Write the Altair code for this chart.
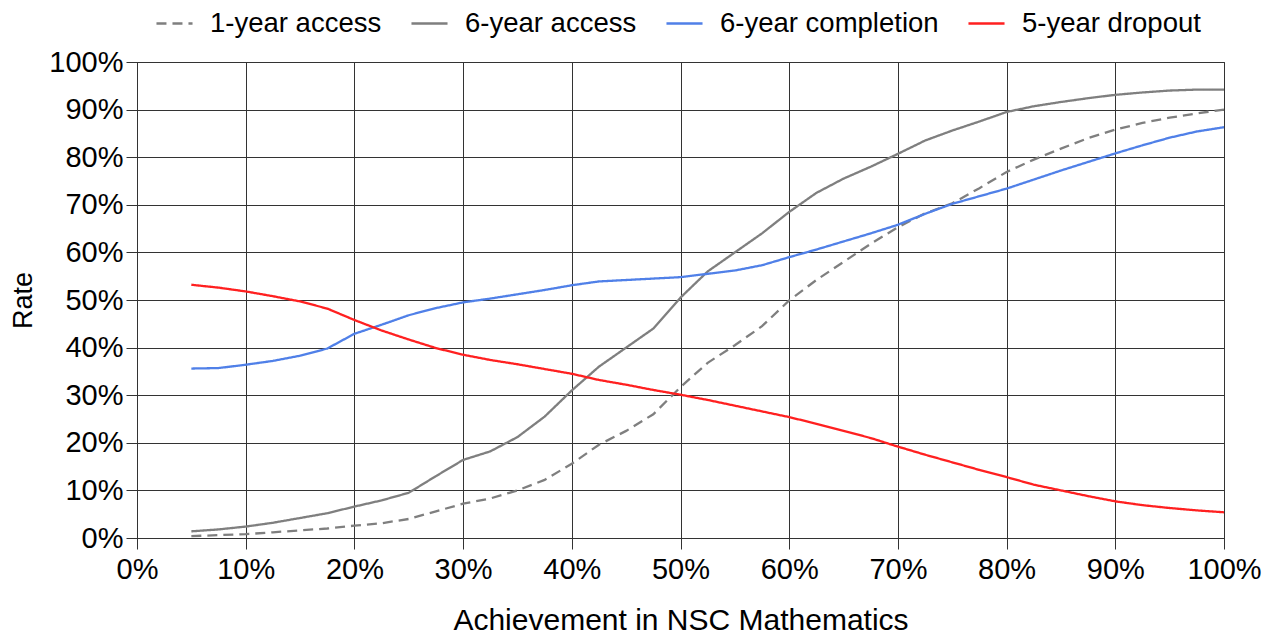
import altair as alt
import pandas as pd

x_vals = [5, 7.5, 10, 12.5, 15, 17.5, 20, 22.5, 25, 27.5, 30, 32.5, 35, 37.5, 40,
          42.5, 45, 47.5, 50, 52.5, 55, 57.5, 60, 62.5, 65, 67.5, 70, 72.5, 75,
          77.5, 80, 82.5, 85, 87.5, 90, 92.5, 95, 97.5, 100]

access_1yr = [0.4, 0.6, 0.8, 1.2, 1.6, 2.0, 2.6, 3.1, 4.0, 5.6, 7.2, 8.3, 10.0, 12.2, 15.6,
              19.6, 22.5, 26.0, 31.7, 36.8, 40.5, 44.5, 49.9, 54.2, 58.0, 61.8, 65.3, 68.2, 70.3,
              73.5, 76.9, 79.5, 81.8, 84.0, 85.8, 87.2, 88.3, 89.2, 90.0]

access_6yr = [1.4, 1.8, 2.4, 3.2, 4.2, 5.2, 6.6, 7.9, 9.5, 13.0, 16.4, 18.2, 21.2, 25.5, 31.0,
              36.0, 40.0, 44.0, 50.5, 56.0, 60.0, 64.0, 68.5, 72.5, 75.5, 78.0, 80.7, 83.5, 85.6,
              87.5, 89.5, 90.7, 91.6, 92.4, 93.1, 93.6, 94.0, 94.2, 94.2]

completion_6yr = [35.6, 35.7, 36.4, 37.2, 38.3, 39.8, 42.9, 44.8, 46.8, 48.3, 49.5, 50.3, 51.2, 52.1, 53.1,
                  53.9, 54.2, 54.5, 54.8, 55.5, 56.2, 57.3, 59.0, 60.6, 62.3, 64.0, 65.8, 68.1, 70.2,
                  71.8, 73.4, 75.3, 77.2, 79.0, 80.8, 82.5, 84.1, 85.4, 86.3]

dropout_5yr = [53.2, 52.6, 51.8, 50.8, 49.7, 48.2, 45.8, 43.6, 41.7, 39.9, 38.5, 37.4, 36.5, 35.5, 34.5,
               33.2, 32.2, 31.1, 30.1, 29.0, 27.8, 26.6, 25.4, 24.0, 22.5, 21.0, 19.2, 17.5, 15.9,
               14.3, 12.8, 11.2, 10.0, 8.8, 7.7, 6.9, 6.3, 5.8, 5.4]

series_names = ["1-year access", "6-year access", "6-year completion", "5-year dropout"]
series_colors = ["#7f7f7f", "#7f7f7f", "#5080e8", "#ff2020"]
series_dashes = [[10, 6], [1, 0], [1, 0], [1, 0]]

rows = []
for name, vals in zip(series_names, [access_1yr, access_6yr, completion_6yr, dropout_5yr]):
    for xv, yv in zip(x_vals, vals):
        rows.append({"x": xv / 100, "y": yv / 100, "series": name})
df = pd.DataFrame(rows)

FONT = "Liberation Sans"

chart = alt.Chart(df).mark_line(strokeWidth=2.3).encode(
    x=alt.X("x:Q", scale=alt.Scale(domain=[0, 1], nice=False),
            axis=alt.Axis(format=".0%", values=[i / 10 for i in range(11)],
                          labelFlush=False, labelPadding=6, labelFontSize=29,
                          title="Achievement in NSC Mathematics", titlePadding=21,
                          titleFontSize=30)),
    y=alt.Y("y:Q", scale=alt.Scale(domain=[0, 1], nice=False),
            axis=alt.Axis(format=".0%", values=[i / 10 for i in range(11)],
                          labelPadding=3, labelFontSize=29,
                          title="Rate", titlePadding=11, titleFontSize=27)),
    color=alt.Color("series:N",
                    scale=alt.Scale(domain=series_names, range=series_colors),
                    legend=alt.Legend(title=None, orient="none", direction="horizontal",
                                      legendX=18, legendY=-58, symbolType="stroke",
                                      symbolSize=1300, symbolStrokeWidth=2.3,
                                      labelFontSize=27.5, labelFont=FONT, labelColor="#000",
                                      labelOffset=16, columnPadding=24, padding=0,
                                      labelLimit=400)),
    strokeDash=alt.StrokeDash("series:N",
                              scale=alt.Scale(domain=series_names, range=series_dashes),
                              legend=None),
).properties(
    width=1087, height=476,
    autosize=alt.AutoSizeParams(type="none"),
    padding={"left": 129, "top": 54, "right": 47, "bottom": 98},
).configure_axis(
    grid=True, gridColor="#333333", gridWidth=1, gridOpacity=1,
    domainColor="#333333", domainWidth=1,
    tickColor="#333333", tickSize=11, tickWidth=1,
    labelFont=FONT, labelColor="#000",
    titleFont=FONT, titleColor="#000", titleFontWeight="normal",
).configure_view(
    stroke="#333333", strokeWidth=1,
)

chart.save("out.html", embed_options={"renderer": "svg", "actions": False})
